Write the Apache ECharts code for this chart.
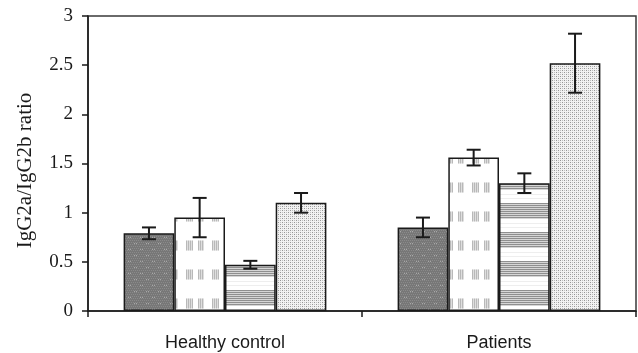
<!DOCTYPE html>
<html>
<head>
<meta charset="utf-8">
<script src="https://cdn.jsdelivr.net/npm/echarts@6/dist/echarts.min.js"></script>
<style>
  html, body { margin: 0; padding: 0; background: #fff; }
  #chart { width: 638px; height: 353px; }
</style>
</head>
<body>
<div id="chart"></div>
<script>
// Groups on the x axis
const categories = ['Healthy control', 'Patients'];

// Mean IgG2a/IgG2b ratio for the four subclasses of each group
const groupA = [0.79, 0.85];
const groupB = [0.95, 1.56];
const groupC = [0.47, 1.30];
const groupD = [1.10, 2.52];

// Standard error for each bar
const errA = [0.06, 0.10];
const errB = [0.20, 0.08];
const errC = [0.04, 0.10];
const errD = [0.10, 0.30];

const yTicks = [0, 0.5, 1, 1.5, 2, 2.5, 3];

// --- fill textures for the bars ---
function makePattern(w, h, draw) {
  const c = document.createElement('canvas');
  c.width = w; c.height = h;
  const ctx = c.getContext('2d');
  draw(ctx, w, h);
  return { image: c, repeat: 'repeat' };
}

// dark grey with faint light specks
const texDark = makePattern(12, 12, (ctx, w, h) => {
  ctx.fillStyle = '#777777'; ctx.fillRect(0, 0, w, h);
  ctx.fillStyle = '#8a8a8a';
  for (let y = 0; y < h; y += 2) for (let x = (y / 2) % 2; x < w; x += 2) ctx.fillRect(x, y, 1, 1);
  ctx.fillStyle = '#a8a8a8';
  ctx.fillRect(2, 3, 1, 1); ctx.fillRect(4, 3, 1, 1); ctx.fillRect(8, 9, 1, 1); ctx.fillRect(10, 9, 1, 1);
});

// white with soft grey blocks of fine vertical stripes
const texBlocks = makePattern(26, 29, (ctx, w, h) => {
  ctx.fillStyle = '#ffffff'; ctx.fillRect(0, 0, w, h);
  const drawBlock = (x0, y0, bw, bh) => {
    for (let x = 0; x < bw; x++) {
      ctx.fillStyle = x % 2 === 0 ? '#b8b8b8' : '#dedede';
      ctx.fillRect(x0 + x, y0, 1, bh);
    }
    ctx.fillStyle = 'rgba(255,255,255,0.45)';
    ctx.fillRect(x0, y0, bw, 1); ctx.fillRect(x0, y0 + bh - 1, bw, 1);
  };
  drawBlock(4, 8, 7, 11);
  drawBlock(16, 8, 6, 11);
});

// horizontal bands of fine grey lines separated by white
const texStripes = makePattern(8, 29, (ctx, w, h) => {
  ctx.fillStyle = '#ffffff'; ctx.fillRect(0, 0, w, h);
  for (let y = 0; y < 16; y++) {
    ctx.fillStyle = y % 2 === 0 ? '#8f8f8f' : '#d6d6d6';
    ctx.fillRect(0, y, w, 1);
  }
  ctx.fillStyle = '#eeeeee';
  ctx.fillRect(0, 20, w, 1);
  ctx.fillRect(0, 24, w, 1);
});

// light dotted screen
const texDots = makePattern(4, 4, (ctx, w, h) => {
  ctx.fillStyle = '#f2f2f2'; ctx.fillRect(0, 0, w, h);
  ctx.fillStyle = '#959595';
  ctx.fillRect(0, 0, 1, 1); ctx.fillRect(2, 2, 1, 1);
  ctx.fillStyle = '#c0c0c0';
  ctx.fillRect(2, 0, 1, 1); ctx.fillRect(0, 2, 1, 1);
});

const seriesValues = [groupA, groupB, groupC, groupD];
const seriesErrors = [errA, errB, errC, errD];
const textures = [texDark, texBlocks, texStripes, texDots];

const BAR_GAP_RATIO = 0.26;

const barSeries = seriesValues.map((vals, i) => ({
  type: 'bar',
  data: vals,
  barGap: '0%',
  barCategoryGap: (BAR_GAP_RATIO * 100) + '%',
  itemStyle: { color: textures[i], borderColor: '#1a1a1a', borderWidth: 1.5 },
  emphasis: { disabled: true },
  silent: true,
  z: 2
}));

// error bar items: [categoryIndex, value, error, seriesIndex]
const errData = [];
seriesValues.forEach((vals, s) => {
  vals.forEach((v, c) => errData.push([c, v, seriesErrors[s][c], s]));
});

const errorSeries = {
  type: 'custom',
  data: errData,
  silent: true,
  z: 5,
  renderItem: function (params, api) {
    const c = api.value(0), v = api.value(1), e = api.value(2), s = api.value(3);
    const center = api.coord([c, v]);
    const catW = api.size([1, 0])[0];
    const bw = catW * (1 - BAR_GAP_RATIO) / seriesValues.length;
    const x = center[0] - bw * seriesValues.length / 2 + (s + 0.5) * bw;
    const yTop = api.coord([c, v + e])[1];
    const yBot = api.coord([c, v - e])[1];
    const cap = 7;
    const style = { stroke: '#1a1a1a', lineWidth: 2 };
    return {
      type: 'group',
      children: [
        { type: 'line', shape: { x1: x, y1: yTop, x2: x, y2: yBot }, style: style },
        { type: 'line', shape: { x1: x - cap, y1: yTop, x2: x + cap, y2: yTop }, style: style },
        { type: 'line', shape: { x1: x - cap, y1: yBot, x2: x + cap, y2: yBot }, style: style }
      ]
    };
  }
};

const chart = echarts.init(document.getElementById('chart'), null, { renderer: 'canvas' });
chart.setOption({
  animation: false,
  backgroundColor: '#ffffff',
  grid: {
    left: 88, right: 2, top: 16, bottom: 42,
    show: true, borderColor: '#3a3a3a', borderWidth: 1.5, backgroundColor: 'transparent'
  },
  xAxis: {
    type: 'category',
    data: categories,
    axisLine: { lineStyle: { color: '#1a1a1a', width: 1.5 } },
    axisTick: { show: true, length: 6, lineStyle: { color: '#1a1a1a', width: 1.5 } },
    axisLabel: {
      margin: 23,
      color: '#1a1a1a',
      fontFamily: 'Liberation Sans',
      fontSize: 18
    },
    splitLine: { show: false }
  },
  yAxis: {
    type: 'value',
    min: yTicks[0],
    max: yTicks[yTicks.length - 1],
    interval: 0.5,
    name: 'IgG2a/IgG2b ratio',
    nameLocation: 'middle',
    nameRotate: 90,
    nameGap: 52,
    nameTextStyle: {
      fontFamily: 'Liberation Serif', fontSize: 21, color: '#1a1a1a',
      padding: [0, 14, 0, 0]
    },
    axisLine: { show: true, lineStyle: { color: '#1a1a1a', width: 1.5 } },
    axisTick: { show: true, length: 6, lineStyle: { color: '#1a1a1a', width: 1.5 } },
    axisLabel: {
      margin: 15,
      color: '#1a1a1a',
      fontFamily: 'Liberation Serif',
      fontSize: 19,
      formatter: v => String(v)
    },
    splitLine: { show: false }
  },
  series: barSeries.concat([errorSeries])
});
</script>
</body>
</html>
